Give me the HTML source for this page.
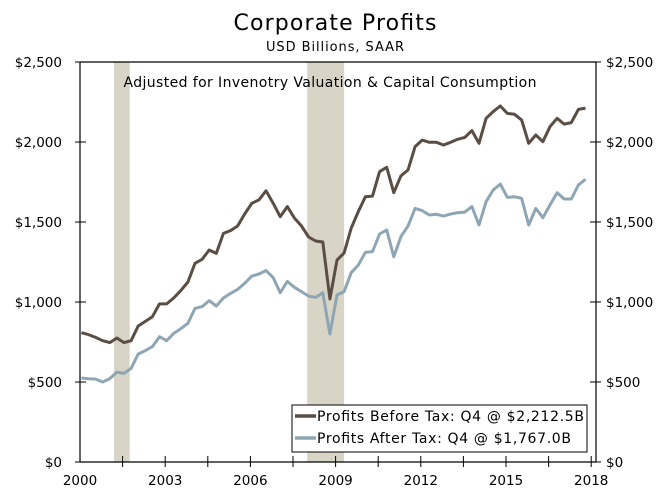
<!DOCTYPE html>
<html><head><meta charset="utf-8"><style>
html,body{margin:0;padding:0;background:#fff;}
svg{display:block;font-family:"DejaVu Sans","Liberation Sans",sans-serif;}
</style></head><body>
<svg id="chart" width="669" height="498" viewBox="0 0 669 498">
<text x="335" y="30" text-anchor="middle" font-size="22" textLength="203">Corporate Profits</text>
<text x="335" y="51" text-anchor="middle" font-size="13" textLength="138">USD Billions, SAAR</text>
<g id="shade"></g>
<text x="330" y="87" text-anchor="middle" font-size="14" textLength="413">Adjusted for Invenotry Valuation &amp; Capital Consumption</text>
<g id="lines"></g>
<g id="axes"></g>
<g>
<rect x="292" y="405" width="295" height="47" fill="#fff" stroke="#000" stroke-width="1"/>
<line x1="295" y1="416" x2="316" y2="416" stroke="#5a4d44" stroke-width="3.5"/>
<text x="317" y="421" font-size="14" textLength="267">Profits Before Tax: Q4 @ $2,212.5B</text>
<line x1="295" y1="438" x2="316" y2="438" stroke="#8ea6b4" stroke-width="3.5"/>
<text x="317" y="443" font-size="14" textLength="254">Profits After Tax: Q4 @ $1,767.0B</text>
</g>
</svg>
<script>
const beforeTax=[808,796,779,758,746,775,746,758,850,879,908,988,988,1025,1071,1125,1242,1267,1325,1304,1429,1446,1475,1550,1617,1638,1695,1618,1533,1596,1525,1475,1406,1381,1375,1019,1262,1306,1462,1565,1658,1662,1815,1842,1683,1788,1825,1971,2012,1998,1998,1981,1998,2017,2029,2071,1992,2148,2190,2225,2179,2173,2138,1992,2044,2002,2096,2148,2112,2121,2204,2212];
const afterTax=[525,520,518,500,521,562,554,585,675,696,721,783,758,804,833,867,960,971,1008,975,1025,1054,1079,1117,1162,1175,1196,1154,1058,1129,1092,1065,1037,1029,1058,800,1044,1065,1183,1231,1310,1315,1425,1450,1283,1408,1475,1585,1571,1544,1548,1537,1550,1558,1562,1596,1481,1627,1700,1737,1654,1658,1648,1481,1585,1527,1606,1683,1644,1644,1731,1767];
const startYear=2000;
const recessions=[[2001.2,2001.75],[2008.0,2009.3]];
const yTicks=[0,500,1000,1500,2000,2500];
const yTickLabels=["$0","$500","$1,000","$1,500","$2,000","$2,500"];
const xLabels=[2000,2003,2006,2009,2012,2015,2018];
const NS="http://www.w3.org/2000/svg";
const L=80,R=596,T=62,B=462;
function xs(yr){return L+(yr-2000)*28.4;}
function ys(v){return B-(v/2500)*(B-T);}
function mk(tag,attrs,parent){const e=document.createElementNS(NS,tag);for(const k in attrs)e.setAttribute(k,attrs[k]);parent.appendChild(e);return e;}
const shade=document.getElementById('shade');
recessions.forEach((r,i)=>{
 const e=mk('rect',{x:xs(r[0]),y:T,width:xs(r[1])-xs(r[0]),height:B-T,fill:'#d8d5c7'},shade);
 
 
});
const lines=document.getElementById('lines');
function path(arr,color,name){
 const d=arr.map((v,i)=>(i?'L':'M')+xs(startYear+i/4+0.05).toFixed(1)+','+ys(v).toFixed(1)).join('');
 const e=mk('path',{d:d,fill:'none',stroke:color,'stroke-width':3,'stroke-linejoin':'round'},lines);
 
 
}
path(afterTax,'#8ea6b4','profits-after-tax-line');
path(beforeTax,'#5a4d44','profits-before-tax-line');
const ax=document.getElementById('axes');
mk('path',{d:`M${L},${T}H${R}M${L},${T}V${B}M${R},${T}V${B}M${L},${B}H${R}`,stroke:'#000','stroke-width':1.2,fill:'none'},ax);
yTicks.forEach((v,i)=>{
 const y=ys(v);
 mk('line',{x1:L-5,x2:L+6,y1:y,y2:y,stroke:'#000','stroke-width':1},ax);
 mk('line',{x1:R-6,x2:R+5,y1:y,y2:y,stroke:'#000','stroke-width':1},ax);
 const t1=mk('text',{x:L-18,y:y+5,'text-anchor':'end','font-size':13.5},ax);t1.textContent=yTickLabels[i];
 
 
 const t2=mk('text',{x:R+10,y:y+5,'text-anchor':'start','font-size':13.5},ax);t2.textContent=yTickLabels[i];
 
 
});
for(let yr=2001.5;yr<=2018.01;yr+=1.5){
 const x=xs(yr);
 mk('line',{x1:x,x2:x,y1:B-6,y2:B+5,stroke:'#000','stroke-width':1},ax);
}
xLabels.forEach(yr=>{
 const t=mk('text',{x:xs(yr),y:B+23,'text-anchor':'middle','font-size':13.5},ax);t.textContent=yr;
 
 
});
</script>
</body></html>
